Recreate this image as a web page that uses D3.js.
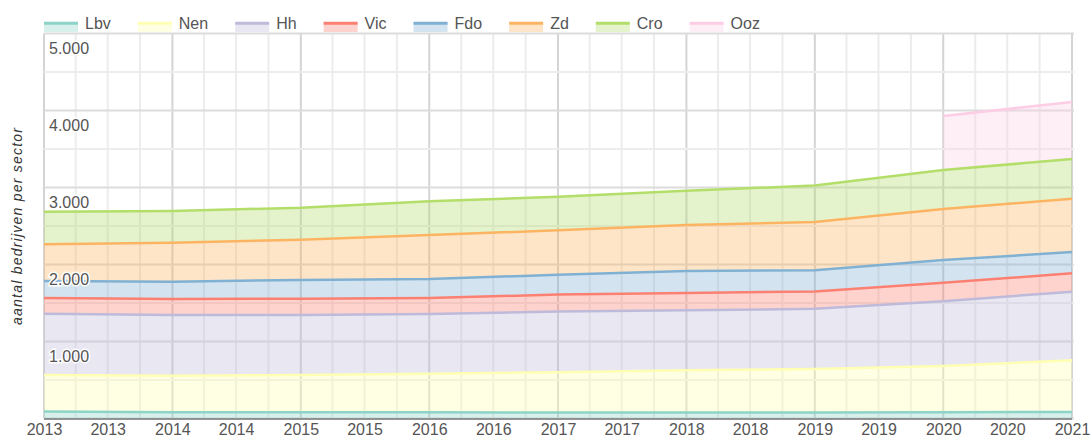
<!DOCTYPE html>
<html>
<head>
<meta charset="utf-8">
<script src="https://cdn.jsdelivr.net/npm/d3@7"></script>
<style>
  body { margin: 0; background: #fff; }
  svg { display: block; }
  text { font-family: "Liberation Sans", Arial, sans-serif; }
</style>
</head>
<body>
<svg id="chart" width="1090" height="436"></svg>
<script>
// Number of companies per sector, one value per year (stacked)
const years = [2013, 2014, 2015, 2016, 2017, 2018, 2019, 2020, 2021];
const sectors = ["Lbv", "Nen", "Hh", "Vic", "Fdo", "Zd", "Cro", "Ooz"];
const lbv = [90, 82, 80, 80, 78, 78, 78, 80, 85];
const nen = [475, 474, 485, 502, 522, 548, 565, 602, 671];
const hh  = [796, 788, 779, 775, 788, 779, 781, 840, 891];
const vic = [204, 208, 212, 208, 222, 225, 226, 242, 238];
const fdo = [221, 225, 243, 247, 256, 286, 276, 294, 277];
const zd  = [476, 506, 523, 571, 578, 597, 626, 663, 693];
const cro = [424, 412, 416, 437, 436, 445, 473, 506, 515];
const ooz = [null, null, null, null, null, null, null, 702, 740];
const yTickValues = [1000, 2000, 3000, 4000, 5000];
const yTitle = "aantal bedrijven per sector";

const palette = ["#8dd3c7", "#ffffb3", "#bebada", "#fb8072", "#80b1d3", "#fdb462", "#b3de69", "#fccde5"];
const seriesValues = [lbv, nen, hh, vic, fdo, zd, cro, ooz];

const rows = years.map((yr, i) => {
  const r = { date: new Date(yr, 0, 1) };
  sectors.forEach((s, k) => { r[s] = seriesValues[k][i]; });
  return r;
});

const svg = d3.select("#chart");
const plotLeft = 44, plotRight = 1072, plotTop = 33.5, plotBottom = 418.5;

const x = d3.scaleTime()
  .domain([new Date(2013, 0, 1), new Date(2021, 0, 1)])
  .range([plotLeft, plotRight]);
const y = d3.scaleLinear().domain([0, 5000]).range([plotBottom, plotTop]);

// grid: quarters and years vertically, every 500 horizontally
const grid = svg.append("g");
d3.timeMonth.every(3).range(new Date(2013, 0, 1), new Date(2021, 0, 2)).forEach(d => {
  const isYear = d.getMonth() === 0;
  grid.append("line")
    .attr("x1", x(d)).attr("x2", x(d))
    .attr("y1", plotTop).attr("y2", plotBottom)
    .attr("stroke", isYear ? "#d4d4d4" : "#ececec")
    .attr("stroke-width", 2);
});
d3.range(0, 5001, 500).forEach(v => {
  grid.append("line")
    .attr("x1", plotLeft).attr("x2", plotRight + 2)
    .attr("y1", y(v)).attr("y2", y(v))
    .attr("stroke", v % 1000 === 0 ? "#dcdcdc" : "#ededed")
    .attr("stroke-width", 2);
});

// stacked areas
const stack = d3.stack().keys(sectors).value((d, k) => d[k] || 0);
const layers = stack(rows);
layers.forEach(layer => layer.forEach(d => { d.key = layer.key; }));

const area = d3.area()
  .defined(d => d.data[d.key] != null)
  .x(d => x(d.data.date))
  .y0(d => y(d[0]))
  .y1(d => y(d[1]));
const line = d3.line()
  .defined(d => d.data[d.key] != null)
  .x(d => x(d.data.date))
  .y(d => y(d[1]));

layers.forEach((layer, k) => {
  svg.append("path")
    .attr("d", area(layer))
    .attr("fill", palette[k])
    .attr("fill-opacity", 0.35);
});
layers.forEach((layer, k) => {
  svg.append("path")
    .attr("d", line(layer))
    .attr("fill", "none")
    .attr("stroke", palette[k])
    .attr("stroke-width", 2.5);
});

// y tick labels inside the plot
svg.append("g").selectAll("text").data(yTickValues).join("text")
  .attr("x", plotLeft + 5)
  .attr("y", d => y(d) + 20.5)
  .attr("font-size", 16)
  .attr("fill", "#555")
  .attr("stroke", "#fff")
  .attr("stroke-width", 3)
  .attr("paint-order", "stroke")
  .text(d => d3.format(",")(d).replace(/,/g, "."));

// x axis
const xAxis = svg.append("g").attr("transform", `translate(0,${plotBottom})`)
  .call(d3.axisBottom(x)
    .ticks(d3.timeMonth.every(6))
    .tickFormat(d3.timeFormat("%Y"))
    .tickSize(0)
    .tickPadding(0));
xAxis.select(".domain").remove();
xAxis.selectAll("text")
  .attr("font-size", 16)
  .attr("fill", "#555")
  .attr("dy", null)
  .attr("y", 16)
  .style("font-family", '"Liberation Sans", Arial, sans-serif');
svg.append("line")
  .attr("x1", plotLeft).attr("x2", plotRight)
  .attr("y1", plotBottom + 0.5).attr("y2", plotBottom + 0.5)
  .attr("stroke", "#777").attr("stroke-width", 1.5);

// y axis title
svg.append("text")
  .attr("transform", `translate(22,${(128 + 325) / 2}) rotate(-90)`)
  .attr("text-anchor", "middle")
  .attr("font-size", 14)
  .attr("font-style", "italic")
  .attr("fill", "#333")
  .attr("textLength", 197)
  .attr("lengthAdjust", "spacing")
  .text(yTitle);

// legend
const legend = svg.append("g");
let lx = 44;
sectors.forEach((s, k) => {
  const g = legend.append("g").attr("transform", `translate(${lx},0)`);
  g.append("rect").attr("x", 0).attr("y", 22).attr("width", 34).attr("height", 10)
    .attr("fill", palette[k]).attr("fill-opacity", 0.35);
  g.append("line").attr("x1", 0).attr("x2", 34).attr("y1", 23.2).attr("y2", 23.2)
    .attr("stroke", palette[k]).attr("stroke-width", 3);
  const t = g.append("text").attr("x", 41).attr("y", 29).attr("font-size", 16)
    .attr("fill", "#555").text(s);
  lx += 41 + t.node().getComputedTextLength() + 27;
});
</script>
</body>
</html>
